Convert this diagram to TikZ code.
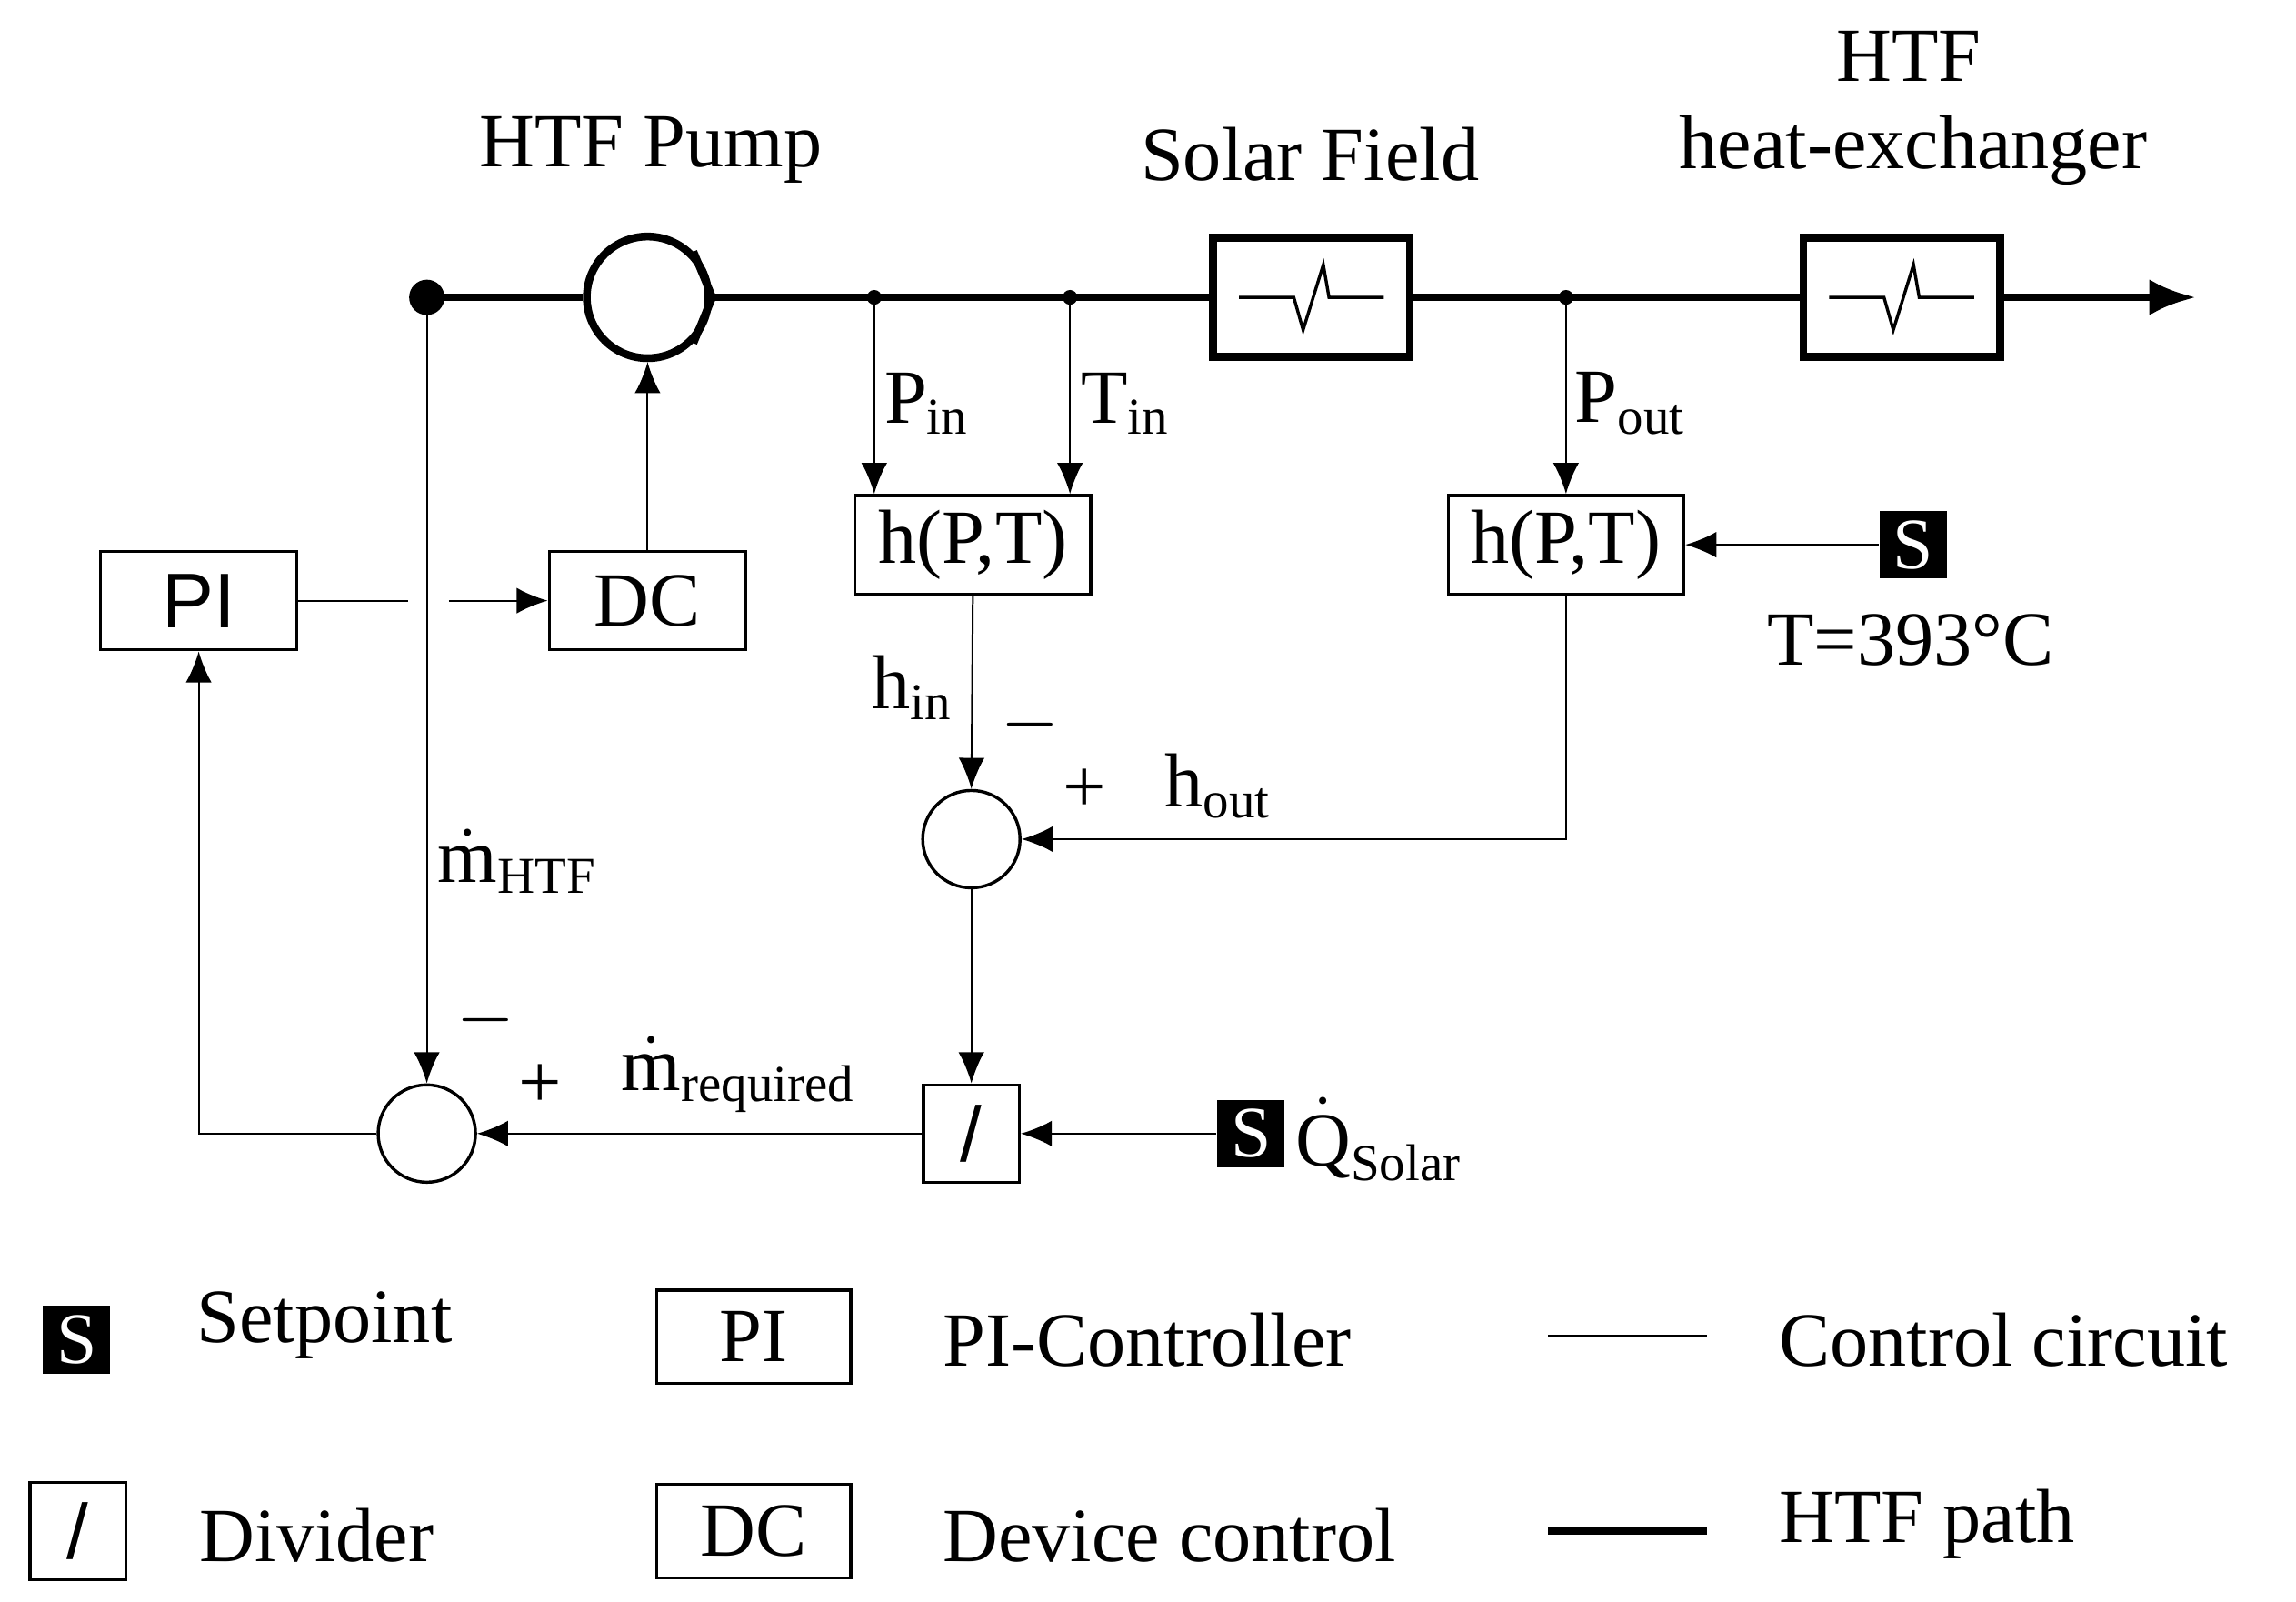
\documentclass[tikz,border=0pt]{standalone}
\usepackage{amsmath}
\usepackage{fontspec}
\setmainfont{Liberation Serif}
\newfontfamily\sans{Liberation Sans}
\usetikzlibrary{arrows.meta}
\begin{document}
\begin{tikzpicture}[x=0.01cm,y=-0.01cm,
 thin/.style={line width=0.35pt},
 htf/.style={line width=1.5pt},
 tip/.style={-{Latex[length=6pt,width=5pt]}},
 box/.style={draw,line width=0.6pt,inner sep=0pt},
 sbox/.style={fill=black,text=white,minimum size=13pt,inner sep=0pt,font=\fontsize{14}{14}\selectfont},
 sum/.style={draw,line width=0.6pt,circle,minimum size=18.8pt,inner sep=0pt},
 big/.style={font=\fontsize{14.8}{16}\selectfont}]
\useasboundingbox (0,0) rectangle (1560,1088);
% titles
\node[big] (t1) at (442,102) {HTF Pump};
\node[big] (t2) at (890,105) {Solar Field};
\node[big] (t3) at (1297,38) {HTF};
\node[big] (t4) at (1300,102) {heat-exchanger};
% main path
\coordinate (d0) at (290,202);
\coordinate (d1) at (594,202);
\coordinate (d2) at (727,202);
\coordinate (d3) at (1064,202);
\coordinate (end) at (1492,202);
\node[draw,circle,line width=1.5pt,minimum size=23.5pt,inner sep=0pt] (pump) at (440,202) {};
\node[draw,line width=1.5pt,minimum width=38pt,minimum height=23pt] (sf) at (891,202) {};
\node[draw,line width=1.5pt,minimum width=38pt,minimum height=23pt] (hx) at (1292,202) {};
\draw[htf] (d0) -- (pump.west);
\draw[htf] (pump.east) -- (sf.west);
\draw[htf] (sf.east) -- (hx.west);
\draw[htf,-{Latex[length=9pt,width=7pt]}] (hx.east) -- (end);
\draw[htf,line join=miter] (pump.45) -- (pump.east) -- (pump.-45);
\foreach \c in {sf,hx}{
 \draw[line width=0.6pt] ([xshift=-14pt]\c.center) -- ([xshift=-3.4pt]\c.center) -- ([xshift=-1.6pt,yshift=-6.3pt]\c.center) -- ([xshift=2.3pt,yshift=6.3pt]\c.center) -- ([xshift=3.4pt]\c.center) -- ([xshift=14pt]\c.center);}
\fill (d0) circle (12);
\foreach \d in {d1,d2,d3} \fill (\d) circle (5);
% boxes
\node[box,minimum width=38pt,minimum height=19pt,font=\sans\fontsize{15}{15}\selectfont] (pi) at (135,408) {PI};
\node[box,minimum width=38pt,minimum height=19pt,big] (dc) at (440,408) {DC};
\node[box,minimum width=45.5pt,minimum height=19pt,big] (h1) at (661,370) {h(P,T)};
\node[box,minimum width=45.5pt,minimum height=19pt,big] (h2) at (1064,370) {h(P,T)};
\node[sbox] (s1) at (1300,370) {S};
\node[sum] (c1) at (660,570) {};
\node[box,minimum width=18.5pt,minimum height=18.8pt,font=\sans\fontsize{15}{15}\selectfont] (dv) at (660,770) {/};
\node[sbox] (s2) at (850,770) {S};
\node[sum] (c2) at (290,770) {};
% connectors
\draw[thin,tip] (dc.north) -- (pump.south);
\draw[thin,tip] (d1) -- (d1 |- h1.north);
\draw[thin,tip] (d2) -- (d2 |- h1.north);
\draw[thin,tip] (d3) -- (h2.north);
\draw[thin,tip] (s1.west) -- (h2.east);
\draw[thin,tip] (h1.south) -- (c1.north);
\draw[thin,tip] (h2.south) |- (c1.east);
\draw[thin,tip] (c1.south) -- (dv.north);
\draw[thin,tip] (s2.west) -- (dv.east);
\draw[thin,tip] (dv.west) -- (c2.east);
\draw[thin,tip] (d0) -- (c2.north);
\draw[thin,tip] (c2.west) -| (pi.south);
\coordinate (g1) at (277,408); \coordinate (g2) at (305,408);
\draw[thin] (pi.east) -- (g1);
\draw[thin,tip] (g2) -- (dc.west);
% labels
\node[big] (lp) at (630,274) {P$_{\text{\fontsize{10}{10}\selectfont in}}$};
\node[big] (lt) at (765,274) {T$_{\text{\fontsize{10}{10}\selectfont in}}$};
\node[big] (lpo) at (1108,274) {P$_{\text{\fontsize{10}{10}\selectfont out}}$};
\node[big] (ltt) at (1298,435) {T=393°C};
\node[big] (lhi) at (620,467) {h$_{\text{\fontsize{10}{10}\selectfont in}}$};
\node[big] (m1) at (700,492) {$-$};
\node[big] (p1) at (737,537) {+};
\node[big] (lho) at (828,534) {h$_{\text{\fontsize{10}{10}\selectfont out}}$};
\node[big] (lmh) at (352,585) {$\dot{\text{m}}_{\text{\fontsize{10}{10}\selectfont HTF}}$};
\node[big] (m2) at (330,693) {$-$};
\node[big] (p2) at (367,738) {+};
\node[big] (lmr) at (502,730) {$\dot{\text{m}}_{\text{\fontsize{10}{10}\selectfont required}}$};
\node[big] (lq) at (937,774) {$\dot{\text{Q}}_{\text{\fontsize{10}{10}\selectfont Solar}}$};
% legend
\node[sbox] (ls) at (52,910) {S};
\node[big,anchor=west,inner sep=0pt] (lst) at (133,900) {Setpoint};
\node[box,minimum width=18.5pt,minimum height=18.8pt,font=\sans\fontsize{15}{15}\selectfont] (ld) at (53,1040) {/};
\node[big,anchor=west,inner sep=0pt] (ldt) at (135,1043) {Divider};
\node[box,minimum width=37.5pt,minimum height=18pt,big] (lpi) at (512,908) {PI};
\node[big,anchor=west,inner sep=0pt] (lpit) at (640,910) {PI-Controller};
\node[box,minimum width=37.5pt,minimum height=18pt,big] (ldc) at (512,1040) {DC};
\node[big,anchor=west,inner sep=0pt] (ldct) at (640,1043) {Device control};
\coordinate (cl1) at (1052,907); \coordinate (cl2) at (1160,907);
\draw[thin] (cl1) -- (cl2);
\node[big,anchor=west,inner sep=0pt] (lcc) at (1208,910) {Control circuit};
\coordinate (hl1) at (1052,1040); \coordinate (hl2) at (1160,1040);
\draw[htf] (hl1) -- (hl2);
\node[big,anchor=west,inner sep=0pt] (lhp) at (1208,1035) {HTF path};
\end{tikzpicture}
\end{document}
